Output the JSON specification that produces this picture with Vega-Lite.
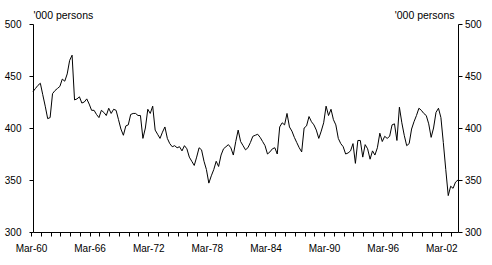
{
  "$schema": "https://vega.github.io/schema/vega-lite/v6.json",
  "width": 425,
  "height": 208,
  "autosize": {"type": "none"},
  "padding": {"left": 33, "top": 24, "right": 34, "bottom": 33},
  "background": "white",
  "config": {
    "view": {"stroke": null},
    "axis": {
      "labelFont": "Liberation Sans",
      "titleFont": "Liberation Sans",
      "labelFontSize": 10,
      "titleFontSize": 10.5,
      "titleFontWeight": "normal",
      "labelColor": "black",
      "titleColor": "black",
      "domainColor": "black",
      "tickColor": "black",
      "grid": false
    }
  },
  "data": {
    "values": [
      {"d": "1960/03/01", "v": 435}, {"d": "1960/06/01", "v": 438}, {"d": "1960/09/01", "v": 441}, {"d": "1960/12/01", "v": 443},
      {"d": "1961/03/01", "v": 432}, {"d": "1961/06/01", "v": 421}, {"d": "1961/09/01", "v": 409}, {"d": "1961/12/01", "v": 410},
      {"d": "1962/03/01", "v": 433}, {"d": "1962/06/01", "v": 436}, {"d": "1962/09/01", "v": 438}, {"d": "1962/12/01", "v": 440},
      {"d": "1963/03/01", "v": 447}, {"d": "1963/06/01", "v": 445}, {"d": "1963/09/01", "v": 452}, {"d": "1963/12/01", "v": 465},
      {"d": "1964/03/01", "v": 470}, {"d": "1964/06/01", "v": 427}, {"d": "1964/09/01", "v": 428}, {"d": "1964/12/01", "v": 430},
      {"d": "1965/03/01", "v": 424}, {"d": "1965/06/01", "v": 425}, {"d": "1965/09/01", "v": 428}, {"d": "1965/12/01", "v": 423},
      {"d": "1966/03/01", "v": 417}, {"d": "1966/06/01", "v": 417}, {"d": "1966/09/01", "v": 413}, {"d": "1966/12/01", "v": 410},
      {"d": "1967/03/01", "v": 417}, {"d": "1967/06/01", "v": 415}, {"d": "1967/09/01", "v": 412}, {"d": "1967/12/01", "v": 419},
      {"d": "1968/03/01", "v": 414}, {"d": "1968/06/01", "v": 418}, {"d": "1968/09/01", "v": 417}, {"d": "1968/12/01", "v": 408},
      {"d": "1969/03/01", "v": 399}, {"d": "1969/06/01", "v": 393}, {"d": "1969/09/01", "v": 402}, {"d": "1969/12/01", "v": 403},
      {"d": "1970/03/01", "v": 413}, {"d": "1970/06/01", "v": 414}, {"d": "1970/09/01", "v": 414}, {"d": "1970/12/01", "v": 412},
      {"d": "1971/03/01", "v": 412}, {"d": "1971/06/01", "v": 390}, {"d": "1971/09/01", "v": 400}, {"d": "1971/12/01", "v": 418},
      {"d": "1972/03/01", "v": 414}, {"d": "1972/06/01", "v": 421}, {"d": "1972/09/01", "v": 398}, {"d": "1972/12/01", "v": 394},
      {"d": "1973/03/01", "v": 390}, {"d": "1973/06/01", "v": 396}, {"d": "1973/09/01", "v": 401}, {"d": "1973/12/01", "v": 390},
      {"d": "1974/03/01", "v": 385}, {"d": "1974/06/01", "v": 382}, {"d": "1974/09/01", "v": 383}, {"d": "1974/12/01", "v": 381},
      {"d": "1975/03/01", "v": 382}, {"d": "1975/06/01", "v": 378}, {"d": "1975/09/01", "v": 383}, {"d": "1975/12/01", "v": 380},
      {"d": "1976/03/01", "v": 372}, {"d": "1976/06/01", "v": 368}, {"d": "1976/09/01", "v": 364}, {"d": "1976/12/01", "v": 372},
      {"d": "1977/03/01", "v": 381}, {"d": "1977/06/01", "v": 379}, {"d": "1977/09/01", "v": 368}, {"d": "1977/12/01", "v": 360},
      {"d": "1978/03/01", "v": 347}, {"d": "1978/06/01", "v": 354}, {"d": "1978/09/01", "v": 360}, {"d": "1978/12/01", "v": 368},
      {"d": "1979/03/01", "v": 363}, {"d": "1979/06/01", "v": 374}, {"d": "1979/09/01", "v": 380}, {"d": "1979/12/01", "v": 382},
      {"d": "1980/03/01", "v": 384}, {"d": "1980/06/01", "v": 381}, {"d": "1980/09/01", "v": 374}, {"d": "1980/12/01", "v": 387},
      {"d": "1981/03/01", "v": 398}, {"d": "1981/06/01", "v": 387}, {"d": "1981/09/01", "v": 383}, {"d": "1981/12/01", "v": 379},
      {"d": "1982/03/01", "v": 381}, {"d": "1982/06/01", "v": 386}, {"d": "1982/09/01", "v": 392}, {"d": "1982/12/01", "v": 393},
      {"d": "1983/03/01", "v": 394}, {"d": "1983/06/01", "v": 391}, {"d": "1983/09/01", "v": 387}, {"d": "1983/12/01", "v": 383},
      {"d": "1984/03/01", "v": 375}, {"d": "1984/06/01", "v": 377}, {"d": "1984/09/01", "v": 380}, {"d": "1984/12/01", "v": 381},
      {"d": "1985/03/01", "v": 375}, {"d": "1985/06/01", "v": 401}, {"d": "1985/09/01", "v": 405}, {"d": "1985/12/01", "v": 403},
      {"d": "1986/03/01", "v": 414}, {"d": "1986/06/01", "v": 401}, {"d": "1986/09/01", "v": 397}, {"d": "1986/12/01", "v": 391},
      {"d": "1987/03/01", "v": 386}, {"d": "1987/06/01", "v": 381}, {"d": "1987/09/01", "v": 377}, {"d": "1987/12/01", "v": 400},
      {"d": "1988/03/01", "v": 402}, {"d": "1988/06/01", "v": 411}, {"d": "1988/09/01", "v": 406}, {"d": "1988/12/01", "v": 403},
      {"d": "1989/03/01", "v": 398}, {"d": "1989/06/01", "v": 390}, {"d": "1989/09/01", "v": 397}, {"d": "1989/12/01", "v": 405},
      {"d": "1990/03/01", "v": 421}, {"d": "1990/06/01", "v": 412}, {"d": "1990/09/01", "v": 418}, {"d": "1990/12/01", "v": 408},
      {"d": "1991/03/01", "v": 403}, {"d": "1991/06/01", "v": 390}, {"d": "1991/09/01", "v": 385}, {"d": "1991/12/01", "v": 382},
      {"d": "1992/03/01", "v": 375}, {"d": "1992/06/01", "v": 376}, {"d": "1992/09/01", "v": 378}, {"d": "1992/12/01", "v": 385},
      {"d": "1993/03/01", "v": 366}, {"d": "1993/06/01", "v": 388}, {"d": "1993/09/01", "v": 388}, {"d": "1993/12/01", "v": 372},
      {"d": "1994/03/01", "v": 384}, {"d": "1994/06/01", "v": 380}, {"d": "1994/09/01", "v": 370}, {"d": "1994/12/01", "v": 378},
      {"d": "1995/03/01", "v": 374}, {"d": "1995/06/01", "v": 381}, {"d": "1995/09/01", "v": 395}, {"d": "1995/12/01", "v": 387},
      {"d": "1996/03/01", "v": 392}, {"d": "1996/06/01", "v": 390}, {"d": "1996/09/01", "v": 392}, {"d": "1996/12/01", "v": 403},
      {"d": "1997/03/01", "v": 404}, {"d": "1997/06/01", "v": 388}, {"d": "1997/09/01", "v": 420}, {"d": "1997/12/01", "v": 405},
      {"d": "1998/03/01", "v": 393}, {"d": "1998/06/01", "v": 383}, {"d": "1998/09/01", "v": 385}, {"d": "1998/12/01", "v": 399},
      {"d": "1999/03/01", "v": 406}, {"d": "1999/06/01", "v": 412}, {"d": "1999/09/01", "v": 419}, {"d": "1999/12/01", "v": 417},
      {"d": "2000/03/01", "v": 414}, {"d": "2000/06/01", "v": 412}, {"d": "2000/09/01", "v": 404}, {"d": "2000/12/01", "v": 391},
      {"d": "2001/03/01", "v": 400}, {"d": "2001/06/01", "v": 415}, {"d": "2001/09/01", "v": 419}, {"d": "2001/12/01", "v": 410},
      {"d": "2002/03/01", "v": 386}, {"d": "2002/06/01", "v": 360}, {"d": "2002/09/01", "v": 335}, {"d": "2002/12/01", "v": 344},
      {"d": "2003/03/01", "v": 342}, {"d": "2003/06/01", "v": 348}, {"d": "2003/09/01", "v": 350}
    ]
  },
  "encoding": {
    "x": {
      "field": "d",
      "type": "temporal",
      "scale": {"domain": [{"year": 1960, "month": 3, "date": 1}, {"year": 2003, "month": 9, "date": 1}], "nice": false},
      "axis": {
        "title": null,
        "values": [
          {"year": 1960, "month": 3, "date": 1}, {"year": 1961, "month": 3, "date": 1}, {"year": 1962, "month": 3, "date": 1}, {"year": 1963, "month": 3, "date": 1},
          {"year": 1964, "month": 3, "date": 1}, {"year": 1965, "month": 3, "date": 1}, {"year": 1966, "month": 3, "date": 1}, {"year": 1967, "month": 3, "date": 1},
          {"year": 1968, "month": 3, "date": 1}, {"year": 1969, "month": 3, "date": 1}, {"year": 1970, "month": 3, "date": 1}, {"year": 1971, "month": 3, "date": 1},
          {"year": 1972, "month": 3, "date": 1}, {"year": 1973, "month": 3, "date": 1}, {"year": 1974, "month": 3, "date": 1}, {"year": 1975, "month": 3, "date": 1},
          {"year": 1976, "month": 3, "date": 1}, {"year": 1977, "month": 3, "date": 1}, {"year": 1978, "month": 3, "date": 1}, {"year": 1979, "month": 3, "date": 1},
          {"year": 1980, "month": 3, "date": 1}, {"year": 1981, "month": 3, "date": 1}, {"year": 1982, "month": 3, "date": 1}, {"year": 1983, "month": 3, "date": 1},
          {"year": 1984, "month": 3, "date": 1}, {"year": 1985, "month": 3, "date": 1}, {"year": 1986, "month": 3, "date": 1}, {"year": 1987, "month": 3, "date": 1},
          {"year": 1988, "month": 3, "date": 1}, {"year": 1989, "month": 3, "date": 1}, {"year": 1990, "month": 3, "date": 1}, {"year": 1991, "month": 3, "date": 1},
          {"year": 1992, "month": 3, "date": 1}, {"year": 1993, "month": 3, "date": 1}, {"year": 1994, "month": 3, "date": 1}, {"year": 1995, "month": 3, "date": 1},
          {"year": 1996, "month": 3, "date": 1}, {"year": 1997, "month": 3, "date": 1}, {"year": 1998, "month": 3, "date": 1}, {"year": 1999, "month": 3, "date": 1},
          {"year": 2000, "month": 3, "date": 1}, {"year": 2001, "month": 3, "date": 1}, {"year": 2002, "month": 3, "date": 1}, {"year": 2003, "month": 3, "date": 1}
        ],
        "labelExpr": "(year(datum.value) - 1960) % 6 == 0 ? timeFormat(datum.value, '%b-%y') : ''",
        "labelOverlap": false,
        "labelFlush": false,
        "labelBound": false,
        "tickOffset": -2,
        "tickSize": 4,
        "labelPadding": 7,
        "labelBaseline": "top",
        "encode": {
          "ticks": {"update": {"y2": {"signal": "(year(datum.value) - 1960) % 6 == 0 ? -5 : -3"}}}
        }
      }
    }
  },
  "layer": [
    {
      "mark": {"type": "line", "color": "black", "strokeWidth": 1},
      "encoding": {
        "y": {
          "field": "v",
          "type": "quantitative",
          "scale": {"domain": [300, 500], "nice": false, "zero": false},
          "axis": {
            "orient": "left",
            "values": [300, 350, 400, 450, 500],
            "tickSize": 4,
            "labelPadding": 8,
            "title": "'000 persons",
            "titleAngle": 0,
            "titleAlign": "left",
            "titleBaseline": "alphabetic",
            "titleX": 0,
            "titleY": -6,
            "encode": {"ticks": {"update": {"x2": {"value": 5}}}}
          }
        }
      }
    },
    {
      "mark": {"type": "line", "color": "black", "strokeWidth": 1, "opacity": 0},
      "encoding": {
        "y": {
          "field": "v",
          "type": "quantitative",
          "axis": {
            "orient": "right",
            "values": [300, 350, 400, 450, 500],
            "tickSize": 4,
            "labelPadding": 2.5,
            "title": "'000 persons",
            "titleAngle": 0,
            "titleAlign": "right",
            "titleBaseline": "alphabetic",
            "titleX": -4,
            "titleY": -6,
            "encode": {"ticks": {"update": {"x2": {"value": -4}}}}
          }
        }
      }
    }
  ],
  "resolve": {"axis": {"y": "independent"}}
}
